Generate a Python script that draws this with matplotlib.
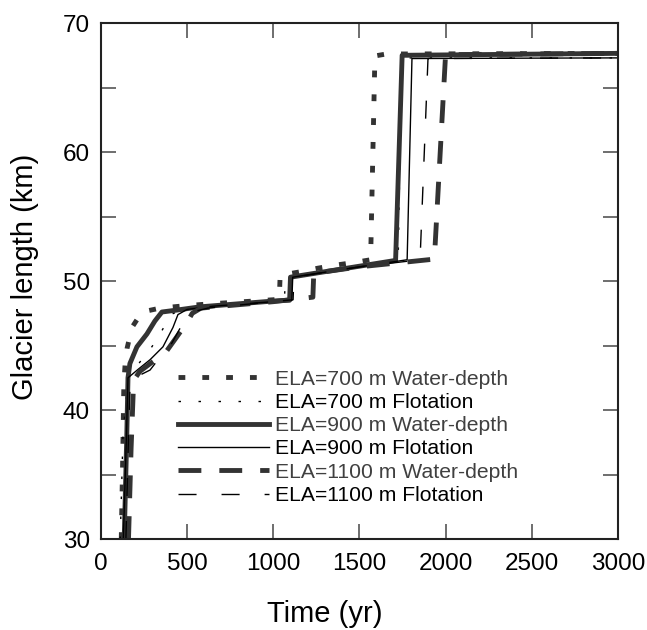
import numpy as np
from matplotlib import pyplot as plt
from matplotlib.ticker import MultipleLocator

# glacier length (km) vs time (yr) for each run
t700w = [118, 126, 133, 140, 152, 180, 238, 343, 460, 600, 1000, 1035, 1040, 1150, 1260, 1370, 1475, 1565, 1590, 1655, 3000]
L700w = [30, 36, 42.0, 43.5, 44.8, 46.4, 47.6, 47.9, 48.05, 48.2, 48.55, 48.6, 50.45, 50.7, 51.0, 51.25, 51.45, 51.65, 67.45, 67.6, 67.65]

t700f = [112, 128, 157, 225, 280, 326, 360, 406, 480, 600, 1000, 1065, 1070, 1500, 1725, 1745, 3000]
L700f = [30, 38, 42.5, 43.7, 44.6, 45.5, 46.3, 47.4, 47.85, 48.05, 48.45, 48.5, 50.25, 51.2, 51.65, 67.3, 67.3]

t900w = [135, 150, 157, 168, 209, 267, 313, 354, 441, 575, 1000, 1095, 1100, 1500, 1710, 1748, 3000]
L900w = [30, 38, 42.5, 43.6, 44.9, 45.9, 46.9, 47.6, 47.75, 48.0, 48.45, 48.52, 50.3, 51.15, 51.6, 67.5, 67.65]

t900f = [130, 148, 157, 220, 285, 360, 418, 447, 500, 650, 1000, 1108, 1113, 1500, 1777, 1805, 3000]
L900f = [30, 38, 42.5, 43.2, 43.9, 44.9, 46.4, 47.4, 47.8, 48.05, 48.4, 48.5, 50.3, 51.1, 51.65, 67.25, 67.3]

t1100w = [160, 175, 190, 226, 296, 372, 447, 500, 530, 580, 700, 1000, 1230, 1235, 1500, 1935, 2000, 3000]
L1100w = [30, 37, 42.3, 43.0, 43.7, 44.4, 45.8, 46.8, 47.5, 47.9, 48.05, 48.4, 48.75, 50.6, 51.1, 51.7, 67.55, 67.65]

t1100f = [145, 160, 170, 210, 285, 343, 412, 470, 517, 560, 620, 1000, 1115, 1120, 1500, 1852, 1898, 3000]
L1100f = [30, 38, 42.4, 42.6, 43.1, 44.1, 45.2, 46.6, 47.2, 47.7, 47.9, 48.4, 48.55, 50.3, 51.1, 51.65, 67.25, 67.3]

labels = ['ELA=700 m Water-depth', 'ELA=700 m Flotation',
          'ELA=900 m Water-depth', 'ELA=900 m Flotation',
          'ELA=1100 m Water-depth', 'ELA=1100 m Flotation']

plt.rcParams['font.family'] = ['Liberation Sans', 'DejaVu Sans']

fig = plt.figure(figsize=(6.47, 6.30), dpi=100)
ax = fig.add_axes([0.156, 0.1444, 0.799, 0.819])

dark = '#333333'
ax.plot(t700w, L700w, color=dark, lw=3.5, ls=(0, (1.4, 3.5)), label=labels[0])
ax.plot(t700f, L700f, color='black', lw=1.0, ls=(0, (1.8, 12.6)), label=labels[1])
ax.plot(t900w, L900w, color=dark, lw=3.5, ls='-', label=labels[2])
ax.plot(t900f, L900f, color='black', lw=1.0, ls='-', label=labels[3])
ax.plot(t1100w, L1100w, color=dark, lw=3.5, ls=(0, (4.7, 3.7)), label=labels[4])
ax.plot(t1100f, L1100f, color='black', lw=1.0, ls=(0, (13, 18)), label=labels[5])

ax.set_xlim(0, 3000)
ax.set_ylim(30, 70)
ax.xaxis.set_major_locator(MultipleLocator(500))
ax.yaxis.set_major_locator(MultipleLocator(10))
ax.yaxis.set_minor_locator(MultipleLocator(5))
ax.tick_params(which='both', direction='in', top=True, right=True,
               length=11, width=1.2, color='#555555')
ax.tick_params(axis='x', labelsize=17.5, pad=10)
ax.tick_params(axis='y', labelsize=17.5, pad=8)
for s in ax.spines.values():
    s.set_linewidth(1.5)
    s.set_color('#222222')

ax.set_xlabel('Time (yr)', fontsize=21)
ax.set_ylabel('Glacier length (km)', fontsize=21)
ax.xaxis.set_label_coords(0.433, -0.118)
ax.yaxis.set_label_coords(-0.12, 0.508)

leg = ax.legend(loc='upper left', bbox_to_anchor=(0.149, 0.328), frameon=False,
                fontsize=15.2, handlelength=4.3, handletextpad=0.3,
                labelspacing=0.2, borderpad=0, borderaxespad=0)
for i, txt in enumerate(leg.get_texts()):
    txt.set_color('#404040' if i % 2 == 0 else 'black')

plt.savefig('out.png', dpi=100)
